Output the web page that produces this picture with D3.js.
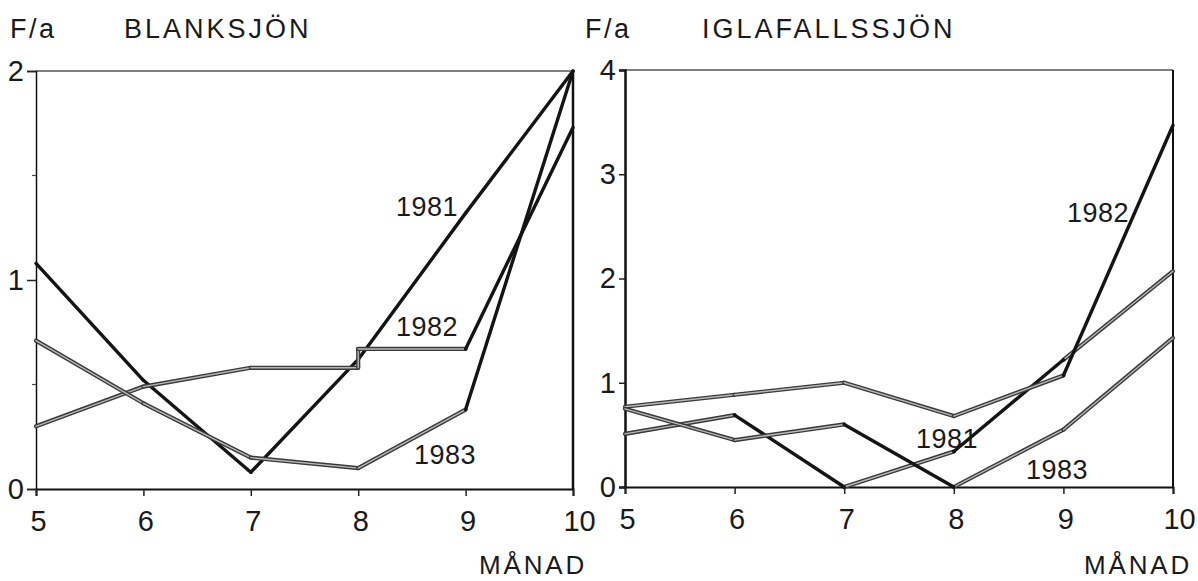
<!DOCTYPE html>
<html>
<head>
<meta charset="utf-8">
<script src="https://cdn.jsdelivr.net/npm/d3@7"></script>
<style>
  body { margin: 0; background: white; }
  text { font-family: "Liberation Sans", Arial, sans-serif; fill: #1a1a1a; }
</style>
</head>
<body>
<div id="chart"></div>
<script>
// Chart size
const width = 1198;
const height = 581;

// Data (F/a per month)
const months = [5, 6, 7, 8, 9, 10];
const xTicks = [5, 6, 7, 8, 9, 10];

// BLANKSJÖN
const blankTicks = [0, 1, 2];
const blankMinor = [0.5, 1.5];
const blank1981 = [1.08, 0.52, 0.08, 0.62, 1.32, 2.0];
const blank1982Months = [5, 6, 7, 8, 8, 9, 10];   // step at month 8
const blank1982 = [0.30, 0.49, 0.58, 0.58, 0.67, 0.67, 1.73];
const blank1983 = [0.71, 0.41, 0.15, 0.10, 0.38, 2.0];

// IGLAFALLSSJÖN
const iglaTicks = [0, 1, 2, 3, 4];
const igla1981 = [0.51, 0.69, 0.0, 0.34, 1.22, 2.07];
const igla1982 = [0.77, 0.885, 1.0, 0.68, 1.07, 3.47];
const igla1983 = [0.75, 0.45, 0.60, 0.0, 0.55, 1.43];

const svg = d3.select("#chart")
  .append("svg")
  .attr("width", width)
  .attr("height", height)
  .style("background-color", "white");

// one panel
function drawPanel(p) {
  const x = d3.scaleLinear().domain([5, 10]).range([p.left, p.right]);
  const y = d3.scaleLinear().domain([0, p.max]).range([p.bottom, p.top]);
  const g = svg.append("g");

  // frame: top and right lines
  g.append("line")
    .attr("x1", p.left).attr("x2", p.right)
    .attr("y1", p.top).attr("y2", p.top)
    .attr("stroke", "#555").attr("stroke-width", 1.5);
  g.append("line")
    .attr("x1", p.right).attr("x2", p.right)
    .attr("y1", p.top).attr("y2", p.bottom)
    .attr("stroke", "#111").attr("stroke-width", p.rightW);

  // y axis
  const yAxis = g.append("g")
    .attr("transform", `translate(${p.left},0)`)
    .call(d3.axisLeft(y).tickValues(p.ticks).tickSize(p.tickLen).tickPadding(3).tickFormat(d3.format("d")));
  yAxis.select(".domain").attr("stroke", "#111").attr("stroke-width", p.leftW);
  yAxis.selectAll(".tick line").attr("stroke", "#222").attr("stroke-width", 1.5);
  yAxis.selectAll(".tick text")
    .style("font-size", "29px")
    .style("font-family", "Liberation Sans, Arial, sans-serif")
    .attr("fill", "#1a1a1a");
  if (p.minor) {
    g.selectAll(".minor")
      .data(p.minor)
      .enter().append("line")
      .attr("x1", p.left - 4).attr("x2", p.left)
      .attr("y1", d => y(d)).attr("y2", d => y(d))
      .attr("stroke", "#444").attr("stroke-width", 1.2);
  }

  // x axis
  const xAxis = g.append("g")
    .attr("transform", `translate(0,${p.bottom})`)
    .call(d3.axisBottom(x).tickValues(xTicks).tickSize(7).tickPadding(14).tickFormat(d3.format("d")));
  xAxis.select(".domain").attr("stroke", "#111").attr("stroke-width", 2);
  xAxis.selectAll(".tick line").attr("stroke", "#222").attr("stroke-width", 1.5);
  xAxis.selectAll(".tick text")
    .style("font-size", "29px")
    .style("font-family", "Liberation Sans, Arial, sans-serif")
    .attr("fill", "#1a1a1a")
    .attr("dx", d => d === 10 ? 6 : 2);

  // series, drawn segment by segment (solid black or hollow grey)
  const line = d3.line().x(d => x(d[0])).y(d => y(d[1]));
  p.series.forEach(s => {
    const pts = s.months.map((m, i) => [m, s.values[i]]);
    const segs = d3.pairs(pts).map((pr, i) => ({ pr, solid: s.solid.includes(i) }));
    // hollow first so black segments sit on top
    segs.filter(d => !d.solid).forEach(d => {
      g.append("path").attr("d", line(d.pr))
        .attr("fill", "none").attr("stroke", "#3a3a3a")
        .attr("stroke-width", 4.2).attr("stroke-linecap", "round");
      g.append("path").attr("d", line(d.pr))
        .attr("fill", "none").attr("stroke", "#b8b8b8")
        .attr("stroke-width", 1.4).attr("stroke-linecap", "round");
    });
    segs.filter(d => d.solid).forEach(d => {
      g.append("path").attr("d", line(d.pr))
        .attr("fill", "none").attr("stroke", "#141414")
        .attr("stroke-width", 3.4).attr("stroke-linecap", "round");
    });
  });

  // year labels
  p.labels.forEach(l => {
    g.append("text")
      .attr("x", l.x).attr("y", l.y)
      .attr("text-anchor", "end")
      .style("font-size", "27px")
      .style("letter-spacing", "0.5px")
      .text(l.text);
  });

  // headings
  g.append("text")
    .attr("x", p.faX).attr("y", 38)
    .style("font-size", "27px").style("letter-spacing", "2.5px")
    .text("F/a");
  g.append("text")
    .attr("x", p.titleX).attr("y", 38)
    .style("font-size", "27px").style("letter-spacing", "3px")
    .text(p.title);
  g.append("text")
    .attr("x", p.manadX).attr("y", 574)
    .attr("text-anchor", "end")
    .style("font-size", "26px").style("letter-spacing", "2.8px")
    .text("MÅNAD");
}

drawPanel({
  title: "BLANKSJÖN", left: 36, right: 573, top: 71, bottom: 489, max: 2,
  ticks: blankTicks, minor: blankMinor, tickLen: 9, leftW: 1.5, rightW: 2.5,
  faX: 10, titleX: 124, manadX: 587,
  series: [
    { months: months, values: blank1981, solid: [0, 1, 2, 3, 4] },
    { months: blank1982Months, values: blank1982, solid: [5] },
    { months: months, values: blank1983, solid: [4] }
  ],
  labels: [
    { text: "1981", x: 458, y: 216 },
    { text: "1982", x: 458, y: 336 },
    { text: "1983", x: 476, y: 464 }
  ]
});

drawPanel({
  title: "IGLAFALLSSJÖN", left: 625, right: 1173, top: 70, bottom: 487, max: 4,
  ticks: iglaTicks, minor: null, tickLen: 6, leftW: 2.5, rightW: 2,
  faX: 585, titleX: 702, manadX: 1192,
  series: [
    { months: months, values: igla1981, solid: [1, 3] },
    { months: months, values: igla1982, solid: [4] },
    { months: months, values: igla1983, solid: [2] }
  ],
  labels: [
    { text: "1981", x: 978, y: 448 },
    { text: "1982", x: 1129, y: 222 },
    { text: "1983", x: 1088, y: 479 }
  ]
});
</script>
</body>
</html>
